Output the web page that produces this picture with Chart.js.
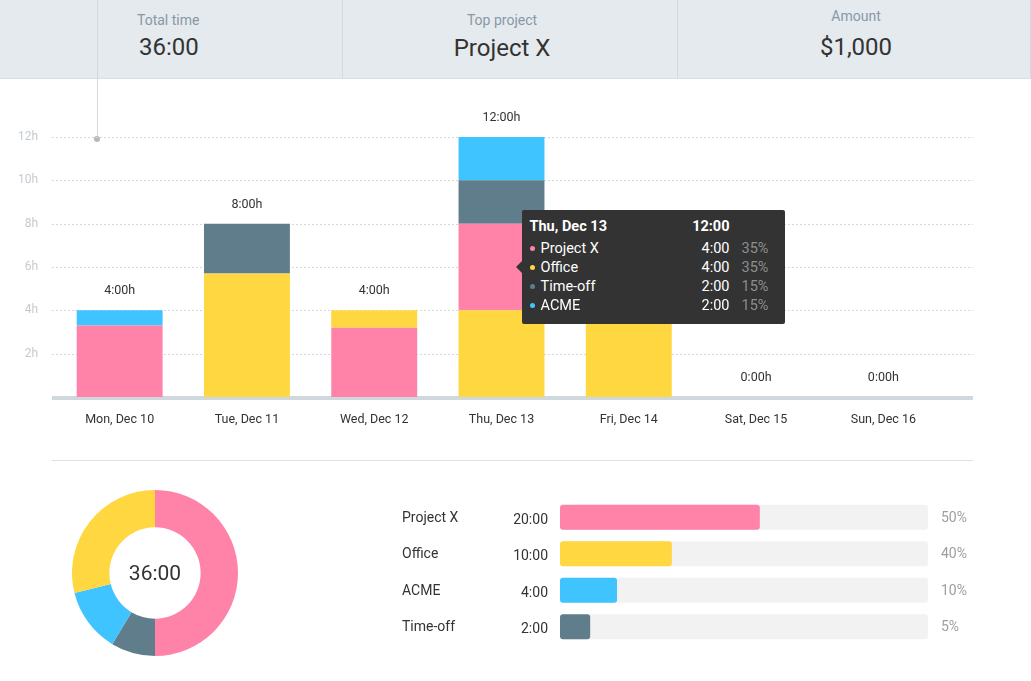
<!DOCTYPE html>
<html>
<head>
<meta charset="utf-8">
<script src="https://cdn.jsdelivr.net/npm/chart.js@4.4.0/dist/chart.umd.min.js"></script>
<style>
  body { margin: 0; width: 1031px; height: 681px; background: #fff; font-family: Roboto, "Noto Sans", sans-serif; position: relative; overflow: hidden; }
  .hdr { position: absolute; left: 0; top: 0; width: 1031px; height: 78px; background: #e5eaee; border-bottom: 1px solid #d8dee3; }
  .sep { position: absolute; top: 0; width: 1px; height: 78px; background: #d2d8dd; }
  .lbl { position: absolute; font-size: 14px; line-height: 16px; color: #8898a6; white-space: nowrap; }
  .val { position: absolute; font-size: 24px; line-height: 28px; color: #333; white-space: nowrap; }
  .mid { transform: translateX(-50%); }
  #pin { position: absolute; left: 97px; top: 0; width: 1px; height: 139px; background: #d2d8dd; }
  #pinDot { position: absolute; left: 94px; top: 136px; width: 6px; height: 6px; border-radius: 50%; background: #b5b9bd; }
  #rule { position: absolute; left: 52px; top: 460px; width: 921px; height: 1px; background: #dce1e5; }
  #donutText { position: absolute; left: 155px; top: 573px; transform: translate(-50%, -50%); font-size: 21px; color: #333; }
  #tip { position: absolute; display: none; width: 263px; height: 114px; background: #333; border-radius: 2px; color: #fff; font-size: 14.5px; }
  #tip .tt, #tip .row { position: absolute; left: 0; width: 263px; height: 18px; line-height: 18px; }
  #tip .l { position: absolute; left: 8px; font-weight: bold; }
  #tip .r { position: absolute; right: 55px; font-weight: bold; }
  #tip i { position: absolute; left: 8px; top: 6px; width: 5px; height: 5px; border-radius: 50%; }
  #tip .n { position: absolute; left: 19px; }
  #tip .v { position: absolute; right: 55px; }
  #tip .p { position: absolute; left: 220px; color: #8e8e8e; }
  #tip .caret { position: absolute; left: -6px; top: 51px; width: 0; height: 0; border-top: 6px solid transparent; border-bottom: 6px solid transparent; border-right: 6px solid #333; }
</style>
</head>
<body>
<div class="hdr">
  <div class="sep" style="left:342px"></div>
  <div class="sep" style="left:677px"></div>
  <div class="sep" style="left:1030px"></div>
  <div class="lbl" style="left:137px;top:12px">Total time</div>
  <div class="val" style="left:139px;top:33px">36:00</div>
  <div class="lbl mid" style="left:502px;top:12px">Top project</div>
  <div class="val mid" style="left:502px;top:34px">Project X</div>
  <div class="lbl mid" style="left:856px;top:8px">Amount</div>
  <div class="val mid" style="left:856px;top:33px">$1,000</div>
</div>
<div id="pin"></div><div id="pinDot"></div>

<div style="position:absolute;left:0;top:90px;width:1031px;height:350px"><canvas id="week"></canvas></div>
<div id="tip"></div>
<div id="rule"></div>

<div style="position:absolute;left:72px;top:490px;width:166px;height:166px"><canvas id="donut"></canvas></div>
<div id="donutText">36:00</div>

<div style="position:absolute;left:390px;top:490px;width:610px;height:160px"><canvas id="split"></canvas></div>

<script>
const PINK = '#ff82a9', YELLOW = '#ffd740', BLUE = '#40c4ff', SLATE = '#607d8b';
const FONT = 'Roboto, "Noto Sans", sans-serif';

// week bars (hours per day, stacked bottom to top)
const days = ['Mon, Dec 10', 'Tue, Dec 11', 'Wed, Dec 12', 'Thu, Dec 13', 'Fri, Dec 14', 'Sat, Dec 15', 'Sun, Dec 16'];
const projectXLow = [3.3, 0, 3.2, 0, 0, 0, 0];
const officeHours = [0, 5.7, 0.8, 4, 4, 0, 0];
const projectXHigh = [0, 0, 0, 4, 0, 0, 0];
const timeOffHours = [0, 2.3, 0, 2, 0, 0, 0];
const acmeHours = [0.7, 0, 0, 2, 0, 0, 0];
const yTicks = [0, 2, 4, 6, 8, 10, 12];

// tooltip order and shares shown for the hovered day
const tipOrder = ['Project X', 'Office', 'Time-off', 'ACME'];
const tipShare = [35, 35, 15, 15];

// donut (clockwise from top)
const donutNames = ['Project X', 'Time-off', 'ACME', 'Office'];
const donutHours = [18, 3.1, 4.5, 10.4];

// project split rows
const splitNames = ['Project X', 'Office', 'ACME', 'Time-off'];
const splitTimes = ['20:00', '10:00', '4:00', '2:00'];
const splitShares = ['50%', '40%', '10%', '5%'];
const splitFill = [54.3, 30.4, 15.5, 8.2];
const splitColors = [PINK, YELLOW, BLUE, SLATE];

function fmt(h) {
  const m = Math.round(h * 60);
  return Math.floor(m / 60) + ':' + String(m % 60).padStart(2, '0');
}

Chart.Tooltip.positioners.atPoint = function (items, pos) {
  return pos ? { x: pos.x, y: pos.y } : false;
};

const weekBg = {
  id: 'weekBg',
  beforeDatasetsDraw(chart) {
    const { ctx, scales: { y } } = chart;
    ctx.save();
    ctx.strokeStyle = '#d4d8db';
    ctx.lineWidth = 1;
    ctx.setLineDash([2, 2]);
    yTicks.forEach((v) => {
      if (!v) return;
      const py = Math.round(y.getPixelForValue(v)) + 0.5;
      ctx.beginPath();
      ctx.moveTo(52, py);
      ctx.lineTo(973, py);
      ctx.stroke();
    });
    ctx.setLineDash([]);
    ctx.strokeStyle = '#cfd8dc';
    ctx.lineWidth = 4;
    const by = y.getPixelForValue(0) + 1;
    ctx.beginPath();
    ctx.moveTo(52, by);
    ctx.lineTo(973, by);
    ctx.stroke();
    ctx.restore();
  },
  afterDatasetsDraw(chart) {
    const { ctx, scales: { x, y } } = chart;
    ctx.save();
    ctx.fillStyle = '#333';
    ctx.font = '12.5px ' + FONT;
    ctx.textAlign = 'center';
    ctx.textBaseline = 'middle';
    days.forEach((d, i) => {
      const total = chart.data.datasets.reduce((s, ds) => s + ds.data[i], 0);
      ctx.fillText(fmt(total) + 'h', x.getPixelForValue(i), y.getPixelForValue(total) - 19);
    });
    ctx.restore();
  }
};

function drawTip({ chart, tooltip }) {
  const el = document.getElementById('tip');
  if (!tooltip.dataPoints || !tooltip.dataPoints.length) { el.style.display = 'none'; return; }
  const pts = tooltip.dataPoints.filter((p) => p.raw > 0)
    .sort((a, b) => tipOrder.indexOf(a.dataset.label) - tipOrder.indexOf(b.dataset.label));
  const total = pts.reduce((s, p) => s + p.raw, 0);
  let html = `<div class="tt" style="top:8px"><span class="l">${tooltip.title[0]}</span><span class="r">${fmt(total)}</span></div>`;
  pts.forEach((p, i) => {
    html += `<div class="row" style="top:${30 + i * 19}px"><i style="background:${p.dataset.backgroundColor}"></i>` +
      `<span class="n">${p.dataset.label}</span><span class="v">${fmt(p.raw)}</span>` +
      `<span class="p">${tipShare[tipOrder.indexOf(p.dataset.label)]}%</span></div>`;
  });
  el.innerHTML = html + '<div class="caret"></div>';
  const r = chart.canvas.getBoundingClientRect();
  el.style.left = (r.left + tooltip.caretX + 20) + 'px';
  el.style.top = (r.top + tooltip.caretY - 57) + 'px';
  el.style.display = 'block';
}

const week = new Chart(document.getElementById('week'), {
  type: 'bar',
  data: {
    labels: days,
    datasets: [
      { label: 'Project X', data: projectXLow, backgroundColor: PINK },
      { label: 'Office', data: officeHours, backgroundColor: YELLOW },
      { label: 'Project X', data: projectXHigh, backgroundColor: PINK },
      { label: 'Time-off', data: timeOffHours, backgroundColor: SLATE },
      { label: 'ACME', data: acmeHours, backgroundColor: BLUE }
    ]
  },
  options: {
    responsive: true,
    maintainAspectRatio: false,
    animation: false,
    events: [],
    layout: { padding: { top: 47, right: 84, left: 0, bottom: 0 } },
    datasets: { bar: { categoryPercentage: 1, barPercentage: 0.675, borderWidth: 0 } },
    plugins: {
      legend: { display: false },
      tooltip: { enabled: false, mode: 'index', position: 'atPoint', external: drawTip }
    },
    scales: {
      x: {
        stacked: true,
        grid: { display: false },
        border: { display: false },
        ticks: { color: '#333', font: { size: 12.5, family: FONT }, padding: 7 },
        afterFit(s) { s.height = 43; }
      },
      y: {
        stacked: true,
        min: 0,
        max: 12,
        grid: { display: false },
        border: { display: false },
        ticks: { stepSize: 2, padding: 10, color: '#c3cbd2', font: { size: 12, family: FONT }, callback: (v) => (v ? v + 'h' : '') },
        afterFit(s) { s.width = 56; }
      }
    }
  },
  plugins: [weekBg]
});

const hovered = week.getDatasetMeta(2).data[3].getCenterPoint();
week.tooltip.setActiveElements(week.data.datasets.map((d, i) => ({ datasetIndex: i, index: 3 })), hovered);

new Chart(document.getElementById('donut'), {
  type: 'doughnut',
  data: {
    labels: donutNames,
    datasets: [{ data: donutHours, backgroundColor: [PINK, SLATE, BLUE, YELLOW], borderWidth: 0 }]
  },
  options: {
    responsive: true,
    maintainAspectRatio: false,
    animation: false,
    events: [],
    cutout: '55%',
    plugins: { legend: { display: false }, tooltip: { enabled: false } }
  }
});

const splitText = {
  id: 'splitText',
  afterDraw(chart) {
    const { ctx } = chart;
    const meta = chart.getDatasetMeta(0);
    ctx.save();
    ctx.font = '14px ' + FONT;
    ctx.textBaseline = 'middle';
    meta.data.forEach((bar, i) => {
      const y = bar.y + 1;
      ctx.fillStyle = '#333';
      ctx.textAlign = 'left';
      ctx.fillText(splitNames[i], 12, y);
      ctx.textAlign = 'right';
      ctx.fillText(splitTimes[i], 158, y + 2);
      ctx.fillStyle = '#9e9e9e';
      ctx.textAlign = 'left';
      ctx.fillText(splitShares[i], 551, y);
    });
    ctx.restore();
  }
};

new Chart(document.getElementById('split'), {
  type: 'bar',
  data: {
    labels: splitNames,
    datasets: [
      { data: splitFill, backgroundColor: splitColors, order: 0 },
      { data: splitNames.map(() => 100), backgroundColor: '#f2f2f2', order: 1 }
    ]
  },
  options: {
    indexAxis: 'y',
    responsive: true,
    maintainAspectRatio: false,
    animation: false,
    events: [],
    layout: { padding: { left: 170, right: 72, top: 9, bottom: 5 } },
    datasets: { bar: { grouped: false, categoryPercentage: 1, barPercentage: 0.685, borderRadius: 3, borderSkipped: false, borderWidth: 0 } },
    plugins: { legend: { display: false }, tooltip: { enabled: false } },
    scales: {
      x: { display: false, min: 0, max: 100 },
      y: { display: false }
    }
  },
  plugins: [splitText]
});
</script>
</body>
</html>
